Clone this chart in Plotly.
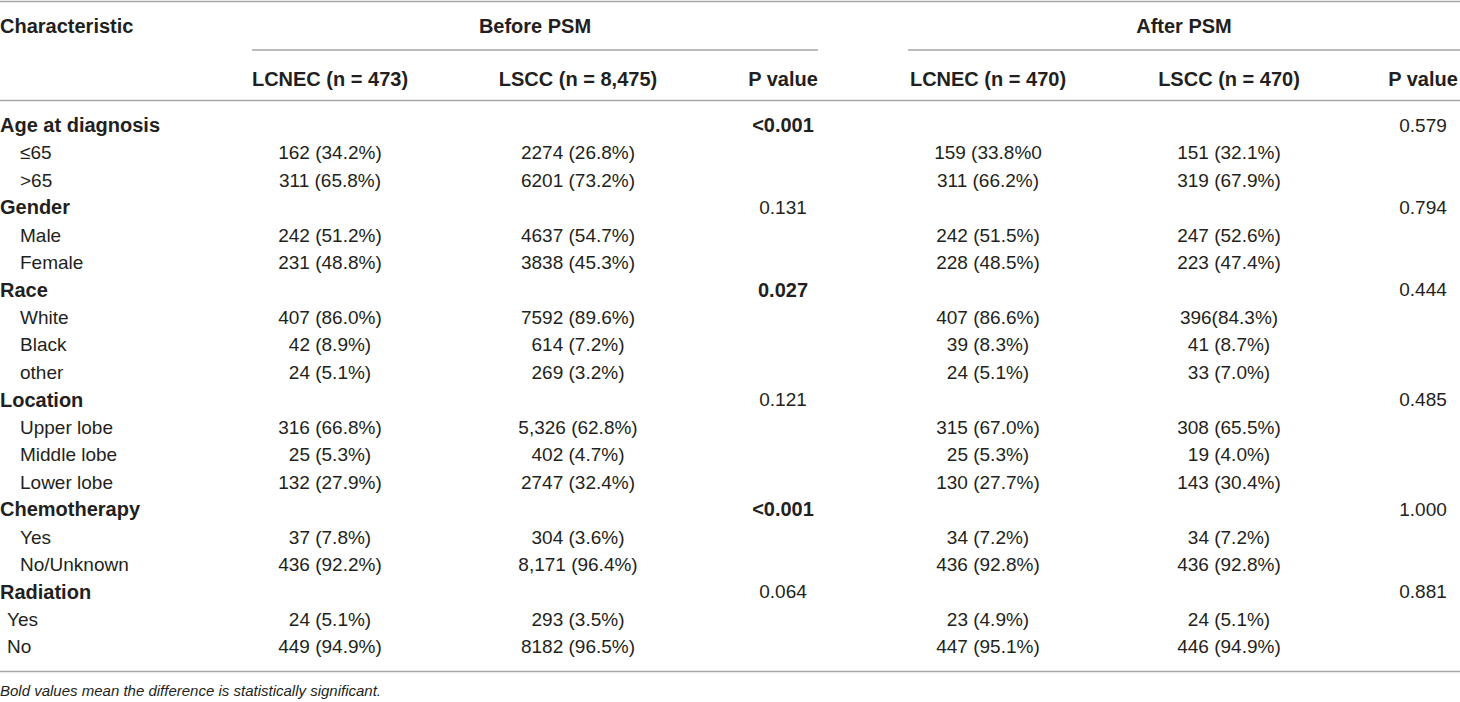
import plotly.graph_objects as go

# table content
characteristics = ["Age at diagnosis", "≤65", ">65", "Gender", "Male", "Female",
                   "Race", "White", "Black", "other", "Location", "Upper lobe",
                   "Middle lobe", "Lower lobe", "Chemotherapy", "Yes", "No/Unknown",
                   "Radiation", "Yes", "No"]
is_group = [True, False, False, True, False, False, True, False, False, False,
            True, False, False, False, True, False, False, True, False, False]

before_lcnec = ["", "162 (34.2%)", "311 (65.8%)", "", "242 (51.2%)", "231 (48.8%)",
                "", "407 (86.0%)", "42 (8.9%)", "24 (5.1%)", "", "316 (66.8%)",
                "25 (5.3%)", "132 (27.9%)", "", "37 (7.8%)", "436 (92.2%)",
                "", "24 (5.1%)", "449 (94.9%)"]
before_lscc = ["", "2274 (26.8%)", "6201 (73.2%)", "", "4637 (54.7%)", "3838 (45.3%)",
               "", "7592 (89.6%)", "614 (7.2%)", "269 (3.2%)", "", "5,326 (62.8%)",
               "402 (4.7%)", "2747 (32.4%)", "", "304 (3.6%)", "8,171 (96.4%)",
               "", "293 (3.5%)", "8182 (96.5%)"]
before_p = ["<0.001", "", "", "0.131", "", "", "0.027", "", "", "", "0.121", "", "",
            "", "<0.001", "", "", "0.064", "", ""]
before_p_bold = ["<0.001", "0.027"]

after_lcnec = ["", "159 (33.8%0", "311 (66.2%)", "", "242 (51.5%)", "228 (48.5%)",
               "", "407 (86.6%)", "39 (8.3%)", "24 (5.1%)", "", "315 (67.0%)",
               "25 (5.3%)", "130 (27.7%)", "", "34 (7.2%)", "436 (92.8%)",
               "", "23 (4.9%)", "447 (95.1%)"]
after_lscc = ["", "151 (32.1%)", "319 (67.9%)", "", "247 (52.6%)", "223 (47.4%)",
              "", "396(84.3%)", "41 (8.7%)", "33 (7.0%)", "", "308 (65.5%)",
              "19 (4.0%)", "143 (30.4%)", "", "34 (7.2%)", "436 (92.8%)",
              "", "24 (5.1%)", "446 (94.9%)"]
after_p = ["0.579", "", "", "0.794", "", "", "0.444", "", "", "", "0.485", "", "",
           "", "1.000", "", "", "0.881", "", ""]

col_headers = ["LCNEC (n = 473)", "LSCC (n = 8,475)", "P value",
               "LCNEC (n = 470)", "LSCC (n = 470)", "P value"]
footnote = "Bold values mean the difference is statistically significant."

W, H = 1460, 702
FONT = "Liberation Sans, Arial, sans-serif"
FS = 19       # regular cells
FS_B = 20     # bold cells
TXT = "#231f20"
RULE = "#a6a6a6"

col_x = [330, 578, 783, 988, 1229, 1423]
row_y = [127 + 27.45 * i for i in range(len(characteristics))]

fig = go.Figure()


def add_text(xs, ys, texts, pos="middle center", size=FS):
    fig.add_trace(go.Scatter(
        x=xs, y=ys, text=texts, mode="text", textposition=pos,
        textfont=dict(family=FONT, size=size, color=TXT),
        hoverinfo="skip", showlegend=False, cliponaxis=False,
    ))


def add_cells(xs, ys, texts, flags, pos="middle center"):
    # regular and bold cells go in separate traces (different sizes)
    for want, size in ((False, FS), (True, FS_B)):
        sel = [i for i, f in enumerate(flags) if f == want and texts[i]]
        if not sel:
            continue
        t = [texts[i] for i in sel]
        if want:
            t = ["<b>%s</b>" % s for s in t]
        add_text([xs[i] for i in sel], [ys[i] for i in sel], t, pos, size)


# first column: groups bold at left, levels indented
indent = []
group = None
for name, g in zip(characteristics, is_group):
    if g:
        group = name
        indent.append(0)
    else:
        indent.append(7 if group == "Radiation" else 20)
add_cells(indent, row_y, characteristics, is_group, "middle right")

columns = [before_lcnec, before_lscc, before_p, after_lcnec, after_lscc, after_p]
for k, (cx, vals) in enumerate(zip(col_x, columns)):
    flags = [k == 2 and v in before_p_bold for v in vals]
    add_cells([cx] * len(vals), row_y, vals, flags)

# headers
add_cells([0], [28], ["Characteristic"], [True], "middle right")
add_cells([535, 1184], [28, 28], ["Before PSM", "After PSM"], [True, True])
add_cells(col_x, [81] * 6, col_headers, [True] * 6)

# footnote
add_text([0], [692], ["<i>%s</i>" % footnote], "middle right", size=15)

# rules
rules = [(0, W, 1.5), (252, 818, 50), (908, W, 50), (0, W, 100.5), (0, W, 671.5)]
for x0, x1, y in rules:
    fig.add_shape(type="line", x0=x0, x1=x1, y0=y, y1=y,
                  line=dict(color=RULE, width=1.6), layer="below")

fig.update_layout(
    width=W, height=H,
    margin=dict(l=0, r=0, t=0, b=0),
    paper_bgcolor="white", plot_bgcolor="white",
    xaxis=dict(range=[0, W], visible=False, fixedrange=True),
    yaxis=dict(range=[H, 0], visible=False, fixedrange=True),
)

fig.write_html("out.html", config={"displayModeBar": False},
               post_script="document.body.style.margin='0';")
